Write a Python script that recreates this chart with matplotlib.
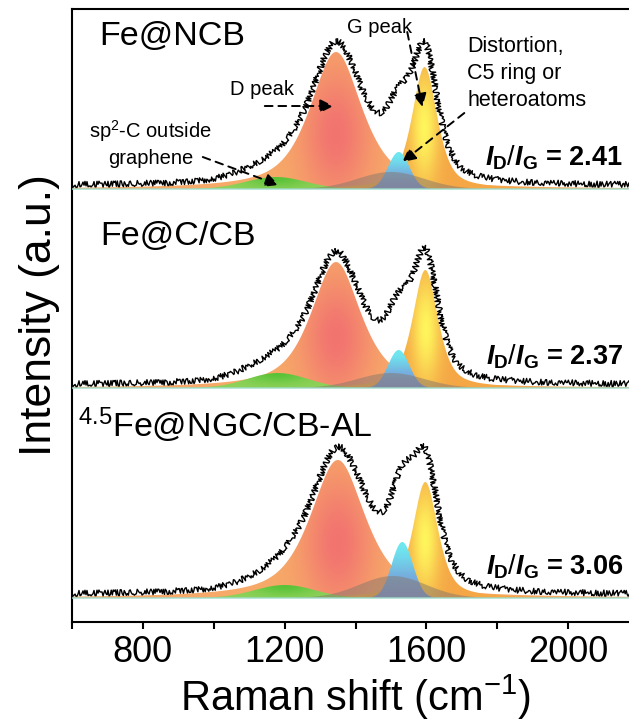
import numpy as np
import matplotlib
matplotlib.use("Agg")
import matplotlib.pyplot as plt
from matplotlib.ticker import MultipleLocator
from matplotlib.colors import to_rgb

plt.rcParams['font.family'] = ['Liberation Sans', 'DejaVu Sans']
plt.rcParams['mathtext.fontset'] = 'custom'
plt.rcParams['mathtext.rm'] = 'Liberation Sans'
plt.rcParams['mathtext.it'] = 'Liberation Sans:italic:bold'
plt.rcParams['mathtext.bf'] = 'Liberation Sans:bold'

# ---- data ----
samples = ["Fe@NCB", "Fe@C/CB", "$^{4.5}$Fe@NGC/CB-AL"]
ratios = ["2.41", "2.37", "3.06"]
offsets = [433, 234, 24]          # stacking offset of each spectrum

# fitted components: green (sp2-C), D, broad (distortion), cyan, G
centers = {
    "green": [1175, 1180, 1200],
    "D":     [1345, 1345, 1350],
    "broad": [1500, 1500, 1505],
    "cyan":  [1522, 1522, 1532],
    "G":     [1595, 1597, 1597],
}
heights = {
    "green": [12, 15, 13],
    "D":     [137, 126, 138],
    "broad": [17, 15, 22],
    "cyan":  [37, 38, 56],
    "G":     [122, 118, 116],
}
fwhm = {"green": 200, "D": [175, 168, 185], "broad": 220, "cyan": 70, "G": 85}

x = np.linspace(600, 2200, 1601)


def pvoigt(x, c, h, w, eta):
    g = np.exp(-4 * np.log(2) * ((x - c) / w) ** 2)
    l = 1.0 / (1 + ((x - c) / (w / 2)) ** 2)
    return h * (eta * l + (1 - eta) * g)


def grad_fill(ax, x, base, y, c_in, c_out, xc, yc, sx, sy, z):
    poly = ax.fill_between(x, base, base + y, facecolor='none', edgecolor='none')
    keep = y > 0.2
    x0, x1 = x[keep].min(), x[keep].max()
    top = base + y.max()
    gx = np.linspace(x0, x1, 300)
    gy = np.linspace(base, top, 150)
    X, Y = np.meshgrid(gx, gy)
    w = np.exp(-((X - xc) / sx) ** 2 - ((Y - yc) / sy) ** 2)[..., None]
    img = np.array(to_rgb(c_out)) * (1 - w) + np.array(to_rgb(c_in)) * w
    im = ax.imshow(img, extent=[x0, x1, base, top], origin='lower',
                   aspect='auto', zorder=z, interpolation='bilinear')
    im.set_clip_path(poly.get_paths()[0], transform=ax.transData)
    poly.remove()


fig = plt.figure(figsize=(6.29, 7.21), dpi=100)
ax = fig.add_axes([0.1145, 0.1373, 0.9014, 0.8502])

for i in range(3):
    b = offsets[i]
    yg = pvoigt(x, centers["green"][i], heights["green"][i], fwhm["green"], 0.0)
    yd = pvoigt(x, centers["D"][i], heights["D"][i], fwhm["D"][i], 0.7)
    yb = pvoigt(x, centers["broad"][i], heights["broad"][i], fwhm["broad"], 0.0)
    yc = pvoigt(x, centers["cyan"][i], heights["cyan"][i], fwhm["cyan"], 0.0)
    yG = pvoigt(x, centers["G"][i], heights["G"][i], fwhm["G"], 0.6)

    hD = heights["D"][i]
    grad_fill(ax, x, b, yd, '#f27470', '#f7aa68', centers["D"][i], b + 0.4 * hD,
              100, 0.5 * hD, 2)
    hG = heights["G"][i]
    grad_fill(ax, x, b, yG, '#fff55c', '#f5a746', centers["G"][i], b + 0.5 * hG,
              40, 0.45 * hG, 3)
    hc = heights["cyan"][i]
    grad_fill(ax, x, b, yc, '#6ee8f0', '#7a8fd4', centers["cyan"][i], b + hc,
              400, 0.6 * hc, 4)
    grad_fill(ax, x, b, yg, '#58c236', '#8fd25a', centers["green"][i],
              b + heights["green"][i], 90, 10, 5)
    ax.fill_between(x, b, b + yb, facecolor='#86786c', alpha=0.5,
                    edgecolor='none', zorder=6)
    ax.plot(x, np.full_like(x, b), color='#9fdccc', lw=1.0, zorder=6)

    env = yg + yd + yb + yc + yG
    ln, = ax.plot(x, b + 3 + env, color='black', lw=1.0, zorder=7)
    ln.set_sketch_params(scale=3.0, length=1.5, randomness=4.0)

    ax.text(2155, b + 24, r'$I_{\mathbf{D}}\mathit{/}I_{\mathbf{G}}$ = ' + ratios[i],
            fontsize=19.5, fontweight='bold', ha='right', va='baseline', zorder=8)

# sample names
ax.text(676, 577, samples[0], fontsize=24.5, va='baseline')
ax.text(679, 377, samples[1], fontsize=24.5, va='baseline')
ax.text(618, 185, samples[2], fontsize=24.5, va='baseline')

# peak annotations on the top spectrum
ax.text(1045, 527, "D peak", fontsize=14.5, va='baseline')
ax.text(1377, 589, "G peak", fontsize=14.5, va='baseline')
ax.text(1715, 586, "Distortion,\nC5 ring or\nheteroatoms", fontsize=15.5,
        va='top', linespacing=1.38)
ax.text(822, 504, "sp$^2$-C outside\ngraphene", fontsize=14.5, ha='center',
        va='top', linespacing=1.36)

arrow = dict(arrowstyle='-|>', linestyle=(0, (4, 3)), lw=1.4, color='black',
             mutation_scale=20, shrinkA=0, shrinkB=0)
ax.annotate('', xy=(1338, 516), xytext=(1144, 516), arrowprops=arrow, zorder=9)
ax.annotate('', xy=(1589, 515), xytext=(1546, 590), arrowprops=arrow, zorder=9)
ax.annotate('', xy=(1532, 460), xytext=(1707, 509), arrowprops=arrow, zorder=9)
ax.annotate('', xy=(1183, 437), xytext=(969, 465), arrowprops=arrow, zorder=9)

ax.set_xlim(600, 2200)
ax.set_ylim(0, 613)
ax.set_xticks([800, 1200, 1600, 2000])
ax.xaxis.set_minor_locator(MultipleLocator(200))
ax.set_yticks([])
ax.tick_params(axis='x', which='both', direction='out', length=5, width=1.5,
               labelsize=26, pad=4)
for s in ax.spines.values():
    s.set_linewidth(1.5)

ax.set_xlabel("Raman shift (cm$^{-1}$)", fontsize=30, labelpad=2)
ax.set_ylabel("Intensity (a.u.)", fontsize=32, labelpad=9)

fig.savefig("out.png", dpi=100)
